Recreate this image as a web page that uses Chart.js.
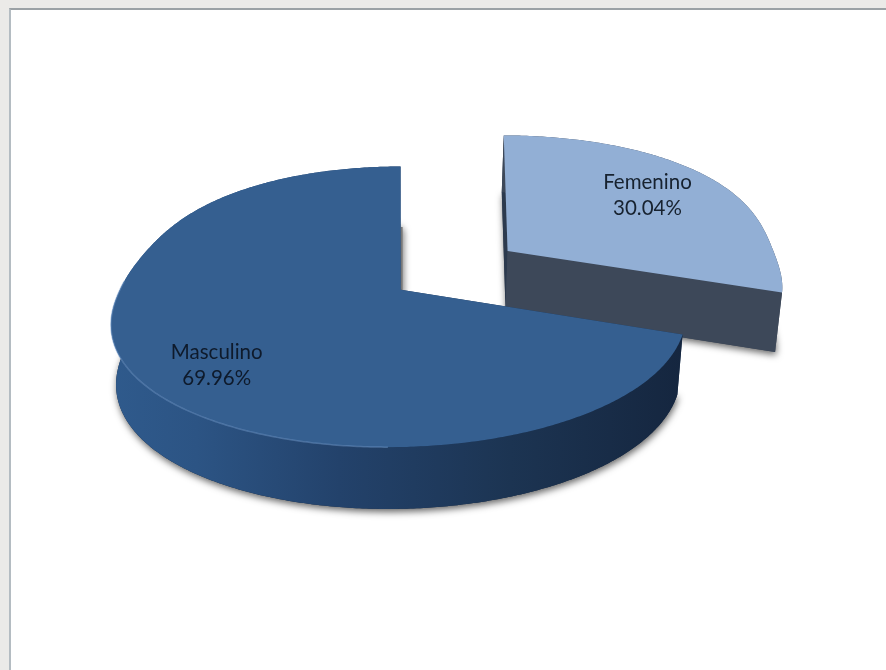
<!DOCTYPE html>
<html>
<head>
<meta charset="utf-8">
<title>Femenino / Masculino</title>
<script src="https://cdn.jsdelivr.net/npm/chart.js@4"></script>
<style>
  html, body { margin: 0; padding: 0; width: 886px; height: 670px; overflow: hidden; background: #ebeae8; }
  #panel { position: absolute; left: 9px; top: 8px; width: 877px; height: 662px; background: #fff;
           border-top: 2px solid #9ba1a5; border-left: 2px solid #b4bcc2; box-sizing: border-box; }
  #wrap { position: absolute; left: 0; top: 0; width: 886px; height: 670px; }
</style>
</head>
<body>
<div id="panel"></div>
<div id="wrap"><canvas id="grafico"></canvas></div>
<script>
const categorias = ['Femenino', 'Masculino'];
const valores = [30.04, 69.96];
const etiquetas = ['30.04%', '69.96%'];
const coresTopo = ['#92afd5', '#355f90'];

// vista 3D: o Chart.js calcula os arcos, aqui so projetamos na tela
const vista = { x0: 456.4, y0: 270, ex: 0.925, ky: 0.448, p: 0.0004, prof: 59, fuga: 395 };
const paredes = [
  [[0, '#3d4859'], [1, '#3d4859']],
  [[0, '#2f5a8c'], [0.15, '#2c5484'], [0.4, '#23426b'], [0.7, '#1c3452'], [1, '#15263f']]
];
const coresCorte = [['#2c3a4e', '#3d4859'], ['#1d3553', '#1d3553']];
const posEtiqueta = [{ ang: -3.5, raio: 0.713 }, { ang: -6, raio: 0.763 }];

function escalaX(v) {
  // a frente abre mais que o fundo (curva suave, sem quina)
  const d = v + 46;
  return 0.963 + 0.00042 * d + 0.00038 * (Math.sqrt(d * d + 3600) - 60);
}

function desvioX(v) {
  // a parte da frente puxa um pouco para a esquerda
  const d = v - 50;
  return -0.025 * (d + Math.sqrt(d * d + 400));
}

function projeta(u, v, z) {
  const s = 1 / (1 - vista.p * v);
  let x = vista.fuga + (vista.x0 + u * vista.ex - vista.fuga) * escalaX(v) + desvioX(v);
  const y = vista.y0 + vista.ky * v * s + z * vista.prof * (1 + (s - 1) * 0.3);
  x = vista.fuga + (x - vista.fuga) * (1 - 0.018 * z);
  return [x, y];
}

function geometria(arc, chart) {
  const p = arc.getProps(['x', 'y', 'startAngle', 'endAngle', 'outerRadius'], true);
  const meio = (p.startAngle + p.endAngle) / 2;
  const off = arc.options.offset || 0;
  return {
    u: p.x - (chart.chartArea.left + chart.chartArea.right) / 2 + Math.cos(meio) * off,
    v: p.y - (chart.chartArea.top + chart.chartArea.bottom) / 2 + Math.sin(meio) * off,
    ini: p.startAngle, fim: p.endAngle, r: p.outerRadius, meio
  };
}

function contorno(g, z, a0, a1) {
  const pts = [];
  const n = Math.ceil(Math.abs(a1 - a0) / 0.01);
  for (let i = 0; i <= n; i++) {
    const a = a0 + (a1 - a0) * i / n;
    pts.push(projeta(g.u + Math.cos(a) * g.r, g.v + Math.sin(a) * g.r, z));
  }
  return pts;
}

function caminho(ctx, pts) {
  ctx.beginPath();
  pts.forEach((q, i) => i ? ctx.lineTo(q[0], q[1]) : ctx.moveTo(q[0], q[1]));
  ctx.closePath();
}

function face(ctx, pts, cor) {
  caminho(ctx, pts);
  ctx.fillStyle = cor;
  ctx.fill();
}

function desenhaFatia(ctx, g, i, corTopo) {
  const centro0 = projeta(g.u, g.v, 0);
  const centro1 = projeta(g.u, g.v, 1);
  const topo = contorno(g, 0, g.ini, g.fim);
  const base = contorno(g, 1, g.ini, g.fim);
  const cantoIni = [topo[0], base[0], centro1, centro0];
  const cantoFim = [topo[topo.length - 1], base[base.length - 1], centro1, centro0];

  // sombra em volta do solido
  ctx.save();
  ctx.shadowColor = 'rgba(0,0,0,0.6)';
  ctx.shadowBlur = 7;
  ctx.shadowOffsetX = 1;
  ctx.shadowOffsetY = 3;
  caminho(ctx, base.concat([centro1]));
  ctx.fillStyle = paredes[i][paredes[i].length - 1][1];
  ctx.fill();
  // sombra fininha no corte
  const meioCorte = projeta(g.u + Math.cos(g.fim) * g.r * 0.48, g.v + Math.sin(g.fim) * g.r * 0.48, 0);
  ctx.strokeStyle = '#777';
  ctx.lineWidth = 2;
  ctx.beginPath();
  ctx.moveTo(meioCorte[0] + (i ? 1 : -1), meioCorte[1]);
  ctx.lineTo(centro1[0] + (i ? 1 : -1), centro1[1] - (i ? 58 : 0));
  ctx.stroke();
  ctx.restore();

  const xs = base.map(q => q[0]).concat(topo.map(q => q[0]));
  const grad = ctx.createLinearGradient(Math.min(...xs), 0, Math.max(...xs), 0);
  paredes[i].forEach(s => grad.addColorStop(s[0], s[1]));

  face(ctx, cantoIni, coresCorte[i][0]);
  face(ctx, cantoFim, coresCorte[i][1]);
  face(ctx, topo.concat(base.slice().reverse()), grad);
  face(ctx, topo.concat([centro0]), corTopo);

  if (i === 1) {
    // brilho na borda da frente
    const borda = contorno(g, 0, Math.PI * 0.5, Math.PI * 1.02);
    ctx.beginPath();
    borda.forEach((q, k) => k ? ctx.lineTo(q[0], q[1]) : ctx.moveTo(q[0], q[1]));
    ctx.strokeStyle = 'rgba(110,150,200,0.5)';
    ctx.lineWidth = 1.5;
    ctx.stroke();
  }
}

function desenhaTexto(ctx, g, i) {
  const a = g.meio + posEtiqueta[i].ang * Math.PI / 180;
  const q = projeta(g.u + Math.cos(a) * g.r * posEtiqueta[i].raio, g.v + Math.sin(a) * g.r * posEtiqueta[i].raio, 0);
  ctx.font = '20.5px Lato';
  ctx.textAlign = 'center';
  ctx.textBaseline = 'middle';
  ctx.fillStyle = i ? '#0e1a2b' : '#17222f';
  ctx.fillText(categorias[i], q[0], q[1] - 13);
  ctx.fillText(etiquetas[i], q[0], q[1] + 13);
}

const pizza3d = {
  id: 'pizza3d',
  beforeDatasetDraw(chart, args) {
    const ctx = chart.ctx;
    const geos = args.meta.data.map(arc => geometria(arc, chart));
    geos.forEach((g, i) => desenhaFatia(ctx, g, i, coresTopo[i]));
    geos.forEach((g, i) => desenhaTexto(ctx, g, i));
    return false;
  }
};

new Chart(document.getElementById('grafico').getContext('2d'), {
  type: 'pie',
  data: {
    labels: categorias,
    datasets: [{ data: valores, backgroundColor: coresTopo, borderWidth: 0, offset: 74 }]
  },
  options: {
    responsive: true,
    maintainAspectRatio: false,
    animation: false,
    plugins: { legend: { display: false }, tooltip: { enabled: false } }
  },
  plugins: [pizza3d]
});
</script>
</body>
</html>
